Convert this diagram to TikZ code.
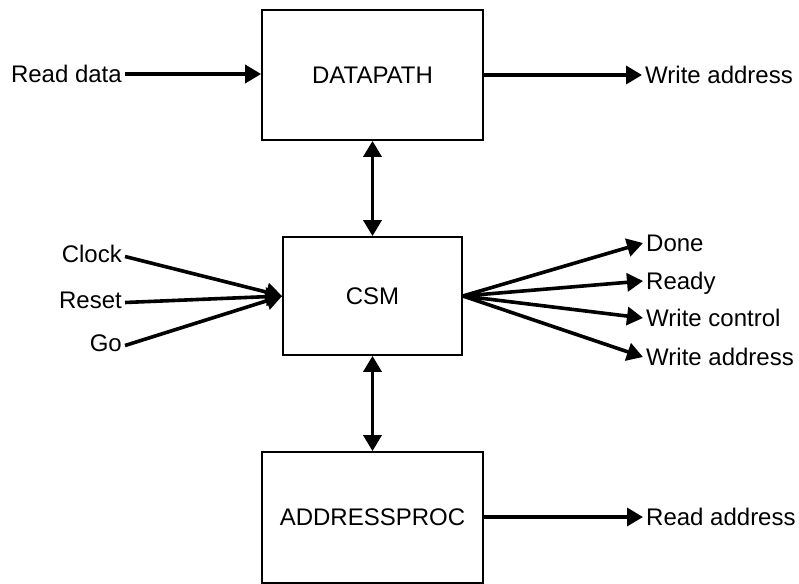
\documentclass[tikz,border=0pt]{standalone}
\usepackage{fontspec}
\setmainfont{Liberation Sans}
\usetikzlibrary{arrows.meta}
\begin{document}
\begin{tikzpicture}[x=1pt,y=-1pt,
  block/.style={draw, line width=1.8pt, minimum width=221pt, minimum height=130pt,
    inner sep=0pt, font=\fontsize{24}{28}\selectfont},
  lbl/.style={inner sep=3pt, text height=17pt, text depth=0pt,
    font=\fontsize{24}{28}\selectfont},
  sig/.style={line width=3.6pt, -{Triangle[length=16pt,width=18pt]}},
  bus/.style={line width=3.6pt,
    {Triangle[length=16pt,width=18pt]}-{Triangle[length=16pt,width=18pt]}}]
  \useasboundingbox (0,0) rectangle (799,583);

  % functional blocks
  \node[block] (dp) at (372.5,75) {DATAPATH};
  \node[block, minimum width=179pt, minimum height=118pt] (csm) at (372.5,296) {CSM};
  \begin{scope}
    \clip (0,0) rectangle (799,583);
    \node[block, minimum height=131pt] (ap) at (372.5,517.5) {ADDRESSPROC};
  \end{scope}

  % signal names
  \node[lbl, anchor=east] (rdata)  at (125,74)  {Read data};
  \node[lbl, anchor=west] (waddr1) at (642,75)  {Write address};
  \node[lbl, anchor=east] (clock)  at (125,254) {Clock};
  \node[lbl, anchor=east] (reset)  at (125,300) {Reset};
  \node[lbl, anchor=east] (go)     at (125,343) {Go};
  \node[lbl, anchor=west] (done)   at (643,243) {Done};
  \node[lbl, anchor=west] (ready)  at (643,281) {Ready};
  \node[lbl, anchor=west] (wctrl)  at (643,318) {Write control};
  \node[lbl, anchor=west] (waddr2) at (643,357) {Write address};
  \node[lbl, anchor=west] (raddr)  at (643,517) {Read address};

  % connections
  \draw[sig] (rdata.east) -- (rdata.east -| dp.west);
  \draw[sig] (dp.east |- waddr1.west) -- (waddr1.west);
  \draw[bus] (dp.south) -- (csm.north);
  \draw[bus] (csm.south) -- (ap.north);
  \foreach \s in {clock,reset,go}
    \draw[sig] ([yshift=-2.5pt]\s.east) -- (csm.west);
  \foreach \s in {done,ready,wctrl,waddr2}
    \draw[sig] (csm.east) -- (\s.west);
  \draw[sig] (ap.east |- raddr.west) -- (raddr.west);
\end{tikzpicture}
\end{document}
